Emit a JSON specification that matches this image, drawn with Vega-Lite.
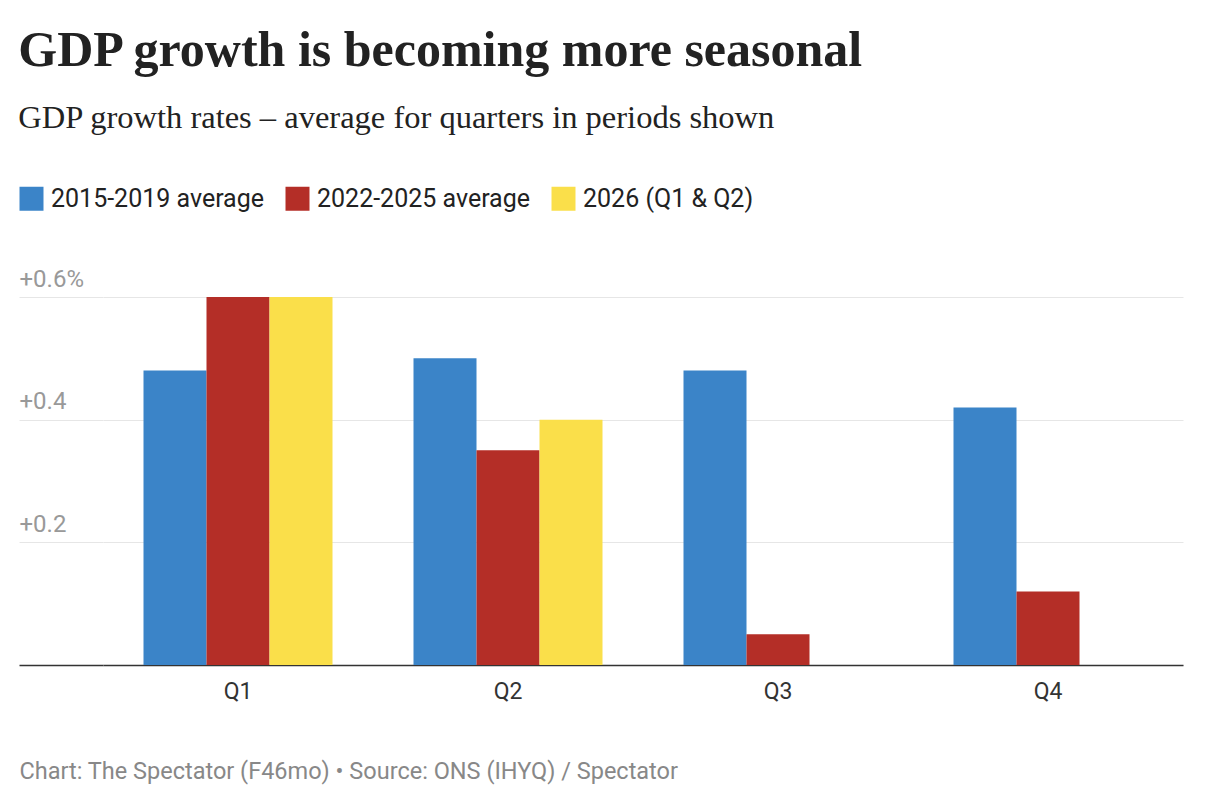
{
  "$schema": "https://vega.github.io/schema/vega-lite/v6.json",
  "width": 1080,
  "height": 368,
  "padding": {"left": 18, "top": 25, "right": 50, "bottom": 10},
  "background": "white",
  "title": {
    "text": "GDP growth is becoming more seasonal",
    "subtitle": "GDP growth rates – average for quarters in periods shown",
    "anchor": "start",
    "font": "Liberation Serif",
    "fontSize": 50,
    "fontWeight": "bold",
    "color": "#222222",
    "subtitleFont": "Liberation Serif",
    "subtitleFontSize": 32.5,
    "subtitleColor": "#222222",
    "subtitlePadding": 26,
    "offset": 52
  },
  "config": {
    "view": {"stroke": null},
    "font": "Roboto"
  },
  "data": {
    "values": [
      {"quarter": "Q1", "series": "2015-2019 average", "growth": 0.48},
      {"quarter": "Q1", "series": "2022-2025 average", "growth": 0.6},
      {"quarter": "Q1", "series": "2026 (Q1 & Q2)", "growth": 0.6},
      {"quarter": "Q2", "series": "2015-2019 average", "growth": 0.5},
      {"quarter": "Q2", "series": "2022-2025 average", "growth": 0.35},
      {"quarter": "Q2", "series": "2026 (Q1 & Q2)", "growth": 0.4},
      {"quarter": "Q3", "series": "2015-2019 average", "growth": 0.48},
      {"quarter": "Q3", "series": "2022-2025 average", "growth": 0.05},
      {"quarter": "Q4", "series": "2015-2019 average", "growth": 0.42},
      {"quarter": "Q4", "series": "2022-2025 average", "growth": 0.12}
    ]
  },
  "mark": {"type": "bar"},
  "encoding": {
    "x": {
      "field": "quarter",
      "type": "nominal",
      "scale": {"paddingInner": 0.3, "paddingOuter": 0.15},
      "axis": {
        "title": "Chart: The Spectator (F46mo) • Source: ONS (IHYQ) / Spectator",
        "titleAnchor": "start",
        "titleAlign": "left",
        "titleX": -84,
        "titleFont": "Roboto",
        "titleFontSize": 23.5,
        "titleFontWeight": "normal",
        "titleColor": "#888888",
        "titlePadding": 56,
        "labelAngle": 0,
        "labelFont": "Roboto",
        "labelFontSize": 23,
        "labelColor": "#333333",
        "labelPadding": 15,
        "ticks": false,
        "domainColor": "#333333",
        "domainWidth": 1.5,
        "grid": false
      }
    },
    "xOffset": {
      "field": "series",
      "type": "nominal",
      "scale": {
        "domain": ["2015-2019 average", "2022-2025 average", "2026 (Q1 & Q2)"],
        "paddingInner": 0,
        "paddingOuter": 0
      }
    },
    "y": {
      "field": "growth",
      "type": "quantitative",
      "scale": {"domain": [0, 0.6], "nice": false},
      "axis": {
        "title": null,
        "values": [0, 0.2, 0.4, 0.6],
        "labelExpr": "datum.value == 0 ? '' : datum.value == 0.6 ? '+0.6%' : '+' + format(datum.value, '.1f')",
        "labelAlign": "left",
        "labelBaseline": "bottom",
        "labelPadding": 0,
        "labelOffset": -6,
        "labelFont": "Roboto",
        "labelFontSize": 24,
        "labelColor": "#999999",
        "ticks": true,
        "tickSize": 84,
        "tickColor": {"condition": {"test": "datum.value === 0", "value": "#333333"}, "value": "#e6e6e6"},
        "tickWidth": {"condition": {"test": "datum.value === 0", "value": 1.5}, "value": 1},
        "domain": false,
        "gridColor": "#e6e6e6",
        "gridWidth": 1
      }
    },
    "color": {
      "field": "series",
      "type": "nominal",
      "scale": {
        "domain": ["2015-2019 average", "2022-2025 average", "2026 (Q1 & Q2)"],
        "range": ["#3b84c8", "#b42e27", "#fadf4a"]
      },
      "legend": {
        "title": null,
        "orient": "none",
        "legendX": -84,
        "legendY": -111,
        "direction": "horizontal",
        "symbolType": "square",
        "symbolSize": 576,
        "symbolStrokeWidth": 0,
        "symbolOpacity": 1,
        "labelFont": "Roboto",
        "labelFontSize": 25,
        "labelColor": "#222222",
        "labelLimit": 0,
        "labelOffset": 7,
        "columnPadding": 20
      }
    }
  }
}
